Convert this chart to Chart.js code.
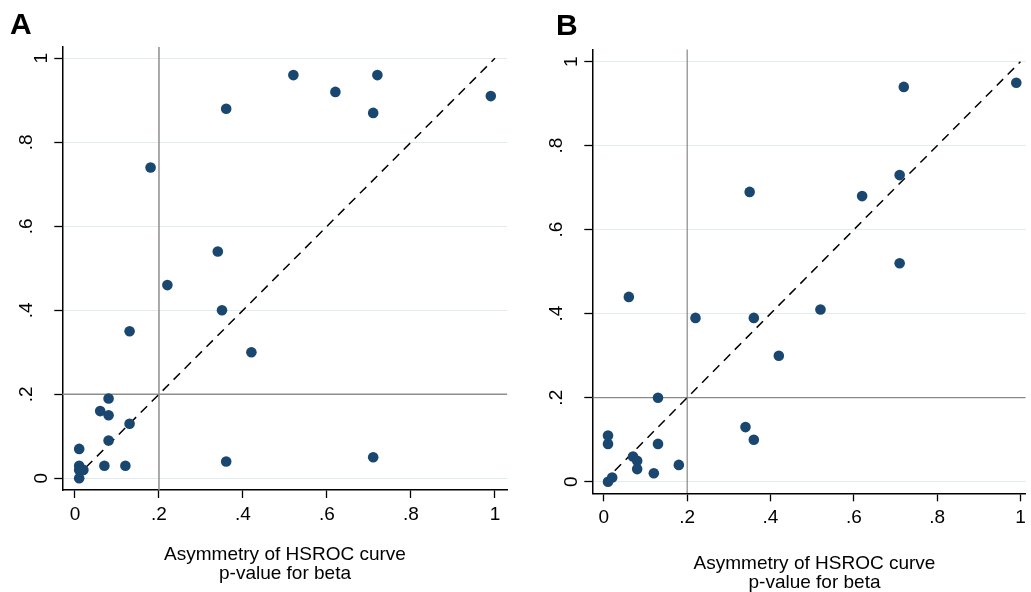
<!DOCTYPE html>
<html>
<head>
<meta charset="utf-8">
<script src="https://cdn.jsdelivr.net/npm/chart.js@4/dist/chart.umd.min.js"></script>
<style>
	body { margin: 0; background: #fff; width: 1031px; height: 592px; overflow: hidden; position: relative; }
	canvas { position: absolute; top: 0; }
	#chartA { left: 0; }
	#chartB { left: 520px; }
</style>
</head>
<body>
<canvas id="chartA" width="520" height="592"></canvas>
<canvas id="chartB" width="511" height="592"></canvas>
<script>
const TICKS = [0, 0.2, 0.4, 0.6, 0.8, 1];
const TICK_LABELS = ["0", ".2", ".4", ".6", ".8", "1"];
const X_TITLE = ["Asymmetry of HSROC curve", "p-value for beta"];
const CUTOFF = 0.2;

// panel A
const A_X = [0.52, 0.62, 0.72, 0.36, 0.71, 0.99, 0.18, 0.34, 0.22, 0.35, 0.13, 0.42, 0.08, 0.06, 0.08, 0.13, 0.08, 0.01, 0.01, 0.01, 0.02, 0.01, 0.07, 0.12, 0.36, 0.71];
const A_Y = [0.96, 0.92, 0.96, 0.88, 0.87, 0.91, 0.74, 0.54, 0.46, 0.40, 0.35, 0.30, 0.19, 0.16, 0.15, 0.13, 0.09, 0.07, 0.03, 0.02, 0.02, 0.00, 0.03, 0.03, 0.04, 0.05];

// panel B
const B_X = [0.72, 0.99, 0.35, 0.62, 0.71, 0.71, 0.06, 0.22, 0.36, 0.52, 0.42, 0.13, 0.34, 0.36, 0.01, 0.01, 0.13, 0.07, 0.08, 0.08, 0.12, 0.18, 0.01, 0.02];
const B_Y = [0.94, 0.95, 0.69, 0.68, 0.73, 0.52, 0.44, 0.39, 0.39, 0.41, 0.30, 0.20, 0.13, 0.10, 0.11, 0.09, 0.09, 0.06, 0.05, 0.03, 0.02, 0.04, 0.00, 0.01];

const FONT = "'Liberation Sans', Arial, sans-serif";
const NAVY = "#1a476f";

// per-panel layout (pixels inside each canvas)
const panels = [
	{
		id: "chartA", letter: "A", xs: A_X, ys: A_Y,
		area: { left: 62.3, right: 507.3, top: 46.7, bottom: 490 },
		xRange: [-0.0302, 1.0293], yRange: [-0.0279, 1.0276],
		yLabelX: 47, dotShift: 15, xLabelY: 520, titleX: 285, titleY: [559.5, 578.7],
		letterX: 10, letterY: 33.5, refColor: "#8e8e8e", refWidth: 1.5,
	},
	{
		id: "chartB", letter: "B", xs: B_X, ys: B_Y,
		area: { left: 72.3, right: 511, top: 49.3, bottom: 493.3 },
		xRange: [-0.0277, 1.0126], yRange: [-0.0276, 1.0295],
		yLabelX: 56.5, dotShift: 15, xLabelY: 523.3, titleX: 294.5, titleY: [569.3, 588.3],
		letterX: 36, letterY: 35, refColor: "#707070", refWidth: 1,
	},
];

const textPlugin = {
	id: "stataText",
	afterDraw(chart, args, opts) {
		const p = opts.panel;
		const ctx = chart.ctx;
		const xs = chart.scales.x;
		const ys = chart.scales.y;
		ctx.save();
		ctx.fillStyle = "#000";
		ctx.font = "19px " + FONT;

		// y tick labels, rotated
		TICKS.forEach((v, i) => {
			const lab = TICK_LABELS[i];
			const bx = p.yLabelX - (lab.startsWith(".") ? p.dotShift : 0);
			ctx.save();
			ctx.translate(bx, ys.getPixelForValue(v));
			ctx.rotate(-Math.PI / 2);
			ctx.textAlign = "center";
			ctx.textBaseline = "alphabetic";
			ctx.fillText(lab, 0, 0);
			ctx.restore();
		});

		// x tick labels
		ctx.textAlign = "center";
		ctx.textBaseline = "alphabetic";
		TICKS.forEach((v, i) => {
			ctx.fillText(TICK_LABELS[i], xs.getPixelForValue(v), p.xLabelY);
		});

		// axis title
		X_TITLE.forEach((t, i) => ctx.fillText(t, p.titleX, p.titleY[i]));

		// panel letter
		ctx.font = "bold 30px " + FONT;
		ctx.textAlign = "left";
		ctx.fillText(p.letter, p.letterX, p.letterY);
		ctx.restore();
	},
};

const makeChart = (p) => {
	const canvas = document.getElementById(p.id);
	const W = canvas.width;
	const H = canvas.height;
	const pts = p.xs.map((x, i) => ({ x: x, y: p.ys[i] }));

	new Chart(canvas.getContext("2d"), {
		type: "scatter",
		data: {
			datasets: [
				{
					data: pts,
					backgroundColor: NAVY,
					borderWidth: 0,
					pointRadius: 5.3,
				},
				{
					type: "line",
					data: [{ x: 0, y: 0 }, { x: 1, y: 1 }],
					borderColor: "#000",
					borderWidth: 1.5,
					borderDash: [9, 6.5],
					pointRadius: 0,
				},
				{
					type: "line",
					data: [{ x: CUTOFF, y: p.yRange[0] }, { x: CUTOFF, y: p.yRange[1] }],
					borderColor: p.refColor,
					borderWidth: p.refWidth,
					pointRadius: 0,
				},
				{
					type: "line",
					data: [{ x: p.xRange[0], y: CUTOFF }, { x: p.xRange[1], y: CUTOFF }],
					borderColor: p.refColor,
					borderWidth: p.refWidth,
					pointRadius: 0,
				},
			],
		},
		options: {
			responsive: false,
			animation: false,
			devicePixelRatio: 1,
			layout: {
				padding: { left: 0, right: W - p.area.right, top: p.area.top, bottom: 0 },
			},
			plugins: {
				legend: { display: false },
				tooltip: { enabled: false },
				stataText: { panel: p },
			},
			scales: {
				x: {
					type: "linear",
					min: p.xRange[0],
					max: p.xRange[1],
					afterBuildTicks: (s) => { s.ticks = TICKS.map((v) => ({ value: v })); },
					afterFit: (s) => { s.height = H - p.area.bottom; },
					ticks: { display: false },
					grid: { drawOnChartArea: false, drawTicks: true, tickLength: 8, tickColor: "#000", tickWidth: 1.3 },
					border: { display: true, color: "#000", width: 1.5 },
				},
				y: {
					type: "linear",
					min: p.yRange[0],
					max: p.yRange[1],
					afterBuildTicks: (s) => { s.ticks = TICKS.map((v) => ({ value: v })); },
					afterFit: (s) => { s.width = p.area.left; },
					ticks: { display: false },
					grid: { color: "#e2ecef", lineWidth: 1, drawTicks: true, tickLength: 8, tickColor: "#000", tickWidth: 1.3 },
					border: { display: true, color: "#000", width: 1.5 },
				},
			},
		},
		plugins: [textPlugin],
	});
};

panels.forEach(makeChart);
</script>
</body>
</html>
